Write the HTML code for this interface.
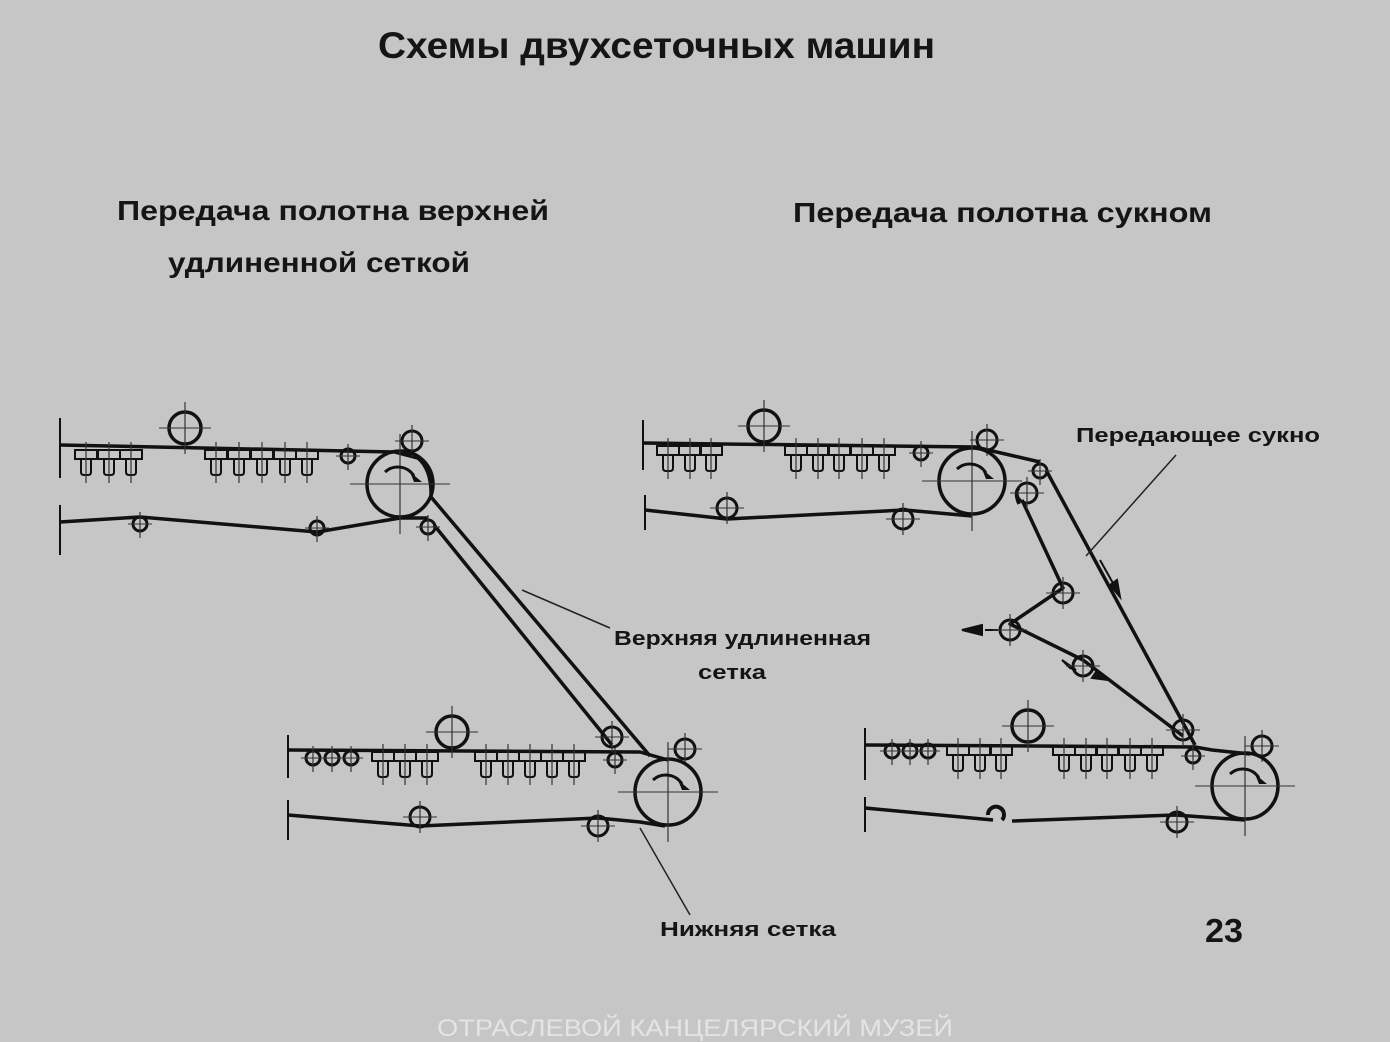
<!DOCTYPE html>
<html><head><meta charset="utf-8"><style>
html,body{margin:0;padding:0;background:#c6c6c6;}
svg{display:block}
text{font-family:"Liberation Sans","DejaVu Sans",sans-serif;font-weight:bold;fill:#151515}
</style></head><body>
<svg width="1390" height="1042" viewBox="0 0 1390 1042" xmlns="http://www.w3.org/2000/svg">
<defs>
<g id="box">
 <rect x="-11" y="0" width="22" height="9" fill="none" stroke="#111" stroke-width="2"/>
 <path d="M-5 9 V22 Q-5 25 -2 25 H2 Q5 25 5 22 V9" fill="none" stroke="#111" stroke-width="2"/>
 <line x1="0" y1="-8" x2="0" y2="33" stroke="#333" stroke-width="1.2"/>
</g>
<g id="sr"><circle r="7" fill="none" stroke="#111" stroke-width="3"/><line x1="-12" y1="0" x2="12" y2="0" stroke="#333" stroke-width="1"/><line x1="0" y1="-12" x2="0" y2="14" stroke="#333" stroke-width="1.2"/></g>
<g id="mr"><circle r="10" fill="none" stroke="#111" stroke-width="3"/><line x1="-17" y1="0" x2="17" y2="0" stroke="#333" stroke-width="1"/><line x1="0" y1="-16" x2="0" y2="16" stroke="#333" stroke-width="1.2"/></g>
<g id="br"><circle r="16" fill="none" stroke="#111" stroke-width="3.5"/><line x1="-26" y1="0" x2="26" y2="0" stroke="#333" stroke-width="1"/><line x1="0" y1="-26" x2="0" y2="26" stroke="#333" stroke-width="1.2"/></g>
<g id="cr"><circle r="33" fill="none" stroke="#111" stroke-width="3.5"/><line x1="-50" y1="0" x2="50" y2="0" stroke="#333" stroke-width="1"/><line x1="0" y1="-50" x2="0" y2="50" stroke="#333" stroke-width="1.2"/><path d="M-15 -12 A19 19 0 0 1 14 -8" fill="none" stroke="#111" stroke-width="3"/><path d="M10 -12 L22 -2 L14 -2 Z" fill="#111"/></g>
</defs>

<text x="378" y="58" font-size="37" textLength="557" lengthAdjust="spacingAndGlyphs">Схемы двухсеточных машин</text>
<text x="117" y="220" font-size="28" textLength="432" lengthAdjust="spacingAndGlyphs">Передача полотна верхней</text>
<text x="168" y="272" font-size="28" textLength="302" lengthAdjust="spacingAndGlyphs">удлиненной сеткой</text>
<text x="793" y="222" font-size="28" textLength="419" lengthAdjust="spacingAndGlyphs">Передача полотна сукном</text>
<text x="1076" y="442" font-size="20" textLength="244" lengthAdjust="spacingAndGlyphs">Передающее сукно</text>
<text x="614" y="645" font-size="20" textLength="257" lengthAdjust="spacingAndGlyphs">Верхняя удлиненная</text>
<text x="698" y="679" font-size="20" textLength="68" lengthAdjust="spacingAndGlyphs">сетка</text>
<text x="660" y="936" font-size="20" textLength="176" lengthAdjust="spacingAndGlyphs">Нижняя сетка</text>
<text x="1205" y="942" font-size="33" textLength="38" lengthAdjust="spacingAndGlyphs">23</text>
<text x="437" y="1036" font-size="24" style="font-weight:normal;fill:#e4e4e4" textLength="516" lengthAdjust="spacingAndGlyphs">ОТРАСЛЕВОЙ КАНЦЕЛЯРСКИЙ МУЗЕЙ</text>

<g stroke="#111" fill="none" stroke-width="3.5" stroke-linejoin="round">
<!-- LEFT upper -->
<line x1="60" y1="418" x2="60" y2="478" stroke-width="2"/>
<line x1="60" y1="505" x2="60" y2="555" stroke-width="2"/>
<path d="M60 445 L395 452 L418 458"/>
<path d="M60 522 L140 517 L317 532 L400 518 L428 518"/>
<path d="M418 458 Q432 470 431 497 L650 756"/>
<path d="M434 525 L612 745"/>
<!-- LEFT lower -->
<line x1="288" y1="735" x2="288" y2="778" stroke-width="2"/>
<line x1="288" y1="800" x2="288" y2="840" stroke-width="2"/>
<path d="M288 750 L640 752 L668 760"/>
<path d="M288 815 L420 826 L598 818 L640 822 L665 826"/>
<!-- RIGHT upper -->
<line x1="643" y1="420" x2="643" y2="470" stroke-width="2"/>
<line x1="645" y1="495" x2="645" y2="530" stroke-width="2"/>
<path d="M643 443 L975 447 L1040 462"/>
<path d="M645 510 L727 519 L905 510 L972 516"/>
<path d="M1046 470 L1195 745"/>
<path d="M1022 500 L1063 588 L1010 624 L1083 660 L1183 736"/>
<path d="M1019 488 Q1014 492 1019 504"/>
<!-- RIGHT lower -->
<line x1="865" y1="728" x2="865" y2="780" stroke-width="2"/>
<line x1="865" y1="797" x2="865" y2="832" stroke-width="2"/>
<path d="M865 745 L1195 747 L1212 750 L1250 754"/>
<path d="M865 808 L993 820"/>
<path d="M1012 821 L1175 815 L1245 820"/>
<path d="M988 815 A8 8 0 1 1 1002 820" stroke-width="4"/>
</g>
<!-- leaders -->
<g stroke="#222" stroke-width="1.5">
<line x1="522" y1="590" x2="610" y2="628"/>
<line x1="640" y1="828" x2="690" y2="915"/>
<line x1="1176" y1="455" x2="1086" y2="556"/>
</g>
<!-- arrows -->
<g fill="#111" stroke="#111" stroke-width="2">
<line x1="1100" y1="560" x2="1114" y2="585"/><path d="M1110 585 L1120 597 L1117 580 Z"/>
<line x1="985" y1="630" x2="998" y2="630"/><path d="M962 630 L982 625 L982 635 Z"/>
<path d="M1062 660 L1076 670 L1070 668 Z"/><path d="M1096 672 L1108 680 L1092 678 Z"/>
</g>

<!-- LEFT rolls -->
<use href="#br" x="185" y="428"/>
<use href="#box" x="86" y="450"/><use href="#box" x="109" y="450"/><use href="#box" x="131" y="450"/>
<use href="#box" x="216" y="450"/><use href="#box" x="239" y="450"/><use href="#box" x="262" y="450"/><use href="#box" x="285" y="450"/><use href="#box" x="307" y="450"/>
<use href="#sr" x="348" y="456"/>
<use href="#mr" x="412" y="441"/>
<use href="#cr" x="400" y="484"/>
<use href="#sr" x="140" y="524"/><use href="#sr" x="317" y="528"/><use href="#sr" x="428" y="527"/>
<use href="#br" x="452" y="732"/>
<use href="#sr" x="313" y="758"/><use href="#sr" x="332" y="758"/><use href="#sr" x="351" y="758"/>
<use href="#box" x="383" y="752"/><use href="#box" x="405" y="752"/><use href="#box" x="427" y="752"/>
<use href="#box" x="486" y="752"/><use href="#box" x="508" y="752"/><use href="#box" x="530" y="752"/><use href="#box" x="552" y="752"/><use href="#box" x="574" y="752"/>
<use href="#mr" x="612" y="737"/>
<use href="#sr" x="615" y="760"/>
<use href="#mr" x="685" y="749"/>
<use href="#cr" x="668" y="792"/>
<use href="#mr" x="420" y="817"/><use href="#mr" x="598" y="826"/>

<!-- RIGHT rolls -->
<use href="#br" x="764" y="426"/>
<use href="#box" x="668" y="446"/><use href="#box" x="690" y="446"/><use href="#box" x="711" y="446"/>
<use href="#box" x="796" y="446"/><use href="#box" x="818" y="446"/><use href="#box" x="839" y="446"/><use href="#box" x="862" y="446"/><use href="#box" x="884" y="446"/>
<use href="#sr" x="921" y="453"/>
<use href="#mr" x="987" y="440"/>
<use href="#cr" x="972" y="481"/>
<use href="#sr" x="1040" y="471"/>
<use href="#mr" x="1027" y="493"/>
<use href="#mr" x="727" y="508"/><use href="#mr" x="903" y="519"/>
<use href="#mr" x="1063" y="593"/>
<use href="#mr" x="1010" y="630"/>
<use href="#mr" x="1083" y="666"/>
<use href="#mr" x="1183" y="730"/>
<use href="#br" x="1028" y="726"/>
<use href="#sr" x="892" y="751"/><use href="#sr" x="910" y="751"/><use href="#sr" x="928" y="751"/>
<use href="#box" x="958" y="746"/><use href="#box" x="980" y="746"/><use href="#box" x="1001" y="746"/>
<use href="#box" x="1064" y="746"/><use href="#box" x="1086" y="746"/><use href="#box" x="1107" y="746"/><use href="#box" x="1130" y="746"/><use href="#box" x="1152" y="746"/>
<use href="#sr" x="1193" y="756"/>
<use href="#mr" x="1262" y="746"/>
<use href="#cr" x="1245" y="786"/>
<use href="#mr" x="1177" y="822"/>
</svg>
</body></html>
